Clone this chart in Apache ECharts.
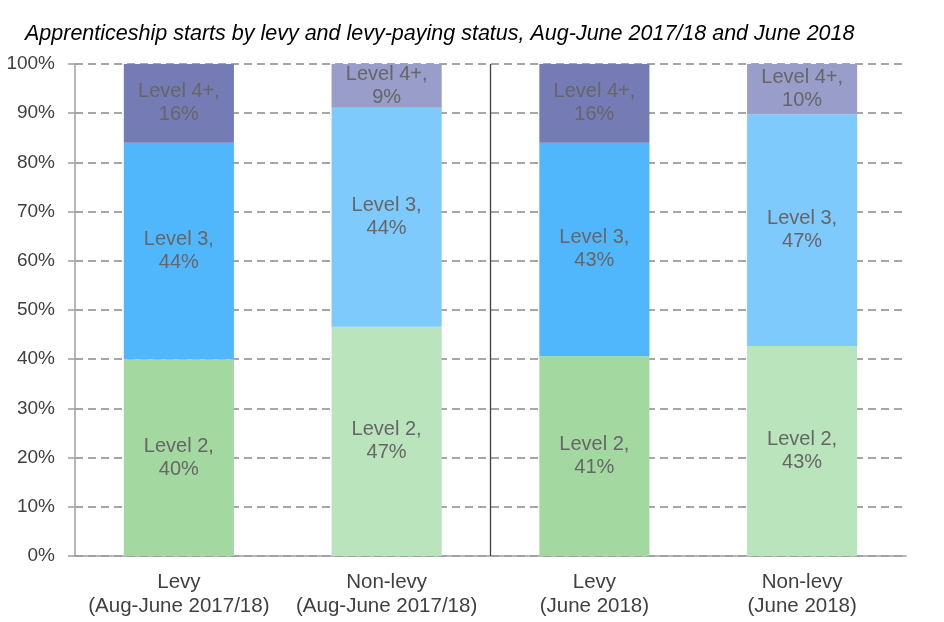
<!DOCTYPE html>
<html><head><meta charset="utf-8">
<script src="https://cdn.jsdelivr.net/npm/echarts@6/dist/echarts.min.js"></script>
<style>html,body{margin:0;padding:0;background:#fff}#c{width:944px;height:622px}</style>
</head><body><div id="c"></div>
<script>
const categories = ['Levy\n(Aug-June 2017/18)', 'Non-levy\n(Aug-June 2017/18)', 'Levy\n(June 2018)', 'Non-levy\n(June 2018)'];
const level2 = [40.0, 46.6, 40.6, 42.7];
const level3 = [44.0, 44.5, 43.4, 47.1];
const level4 = [16.0, 8.9, 16.0, 10.2];
const level2Labels = ['40%', '47%', '41%', '43%'];
const level3Labels = ['44%', '44%', '43%', '47%'];
const level4Labels = ['16%', '9%', '16%', '10%'];
const yTicks = [0, 10, 20, 30, 40, 50, 60, 70, 80, 90, 100];
const dividerAt = [2];

const FF = 'Liberation Sans, Arial, sans-serif';
const col = {
  l2: ['#A3D9A0', '#B9E4BC'],
  l3: ['#51B7FC', '#7FCAFD'],
  l4: ['#757BB5', '#989DCA']
};
function mk(name, vals, labels, colors) {
  return {
    name: name, type: 'bar', stack: 'all', barWidth: '53%',
    data: vals.map((v, i) => ({ value: v, itemStyle: { color: colors[i % 2] } })),
    label: {
      show: true, position: 'inside', color: '#666666', fontSize: 20, lineHeight: 23,
      fontFamily: FF,
      formatter: p => name + ',\n' + labels[p.dataIndex]
    }
  };
}
const chart = echarts.init(document.getElementById('c'), null, { renderer: 'canvas' });
chart.setOption({
  animation: false,
  title: {
    text: 'Apprenticeship starts by levy and levy-paying status, Aug-June 2017/18 and June 2018',
    left: 20, top: 18,
    textStyle: { fontFamily: FF, fontStyle: 'italic', fontWeight: 'normal', fontSize: 21.5, color: '#000' }
  },
  grid: { left: 75, right: 38, top: 64, bottom: 66 },
  xAxis: [{
    type: 'category', data: categories,
    axisLine: { lineStyle: { color: '#A0A0A0', width: 1.5 } },
    axisTick: { show: false },
    axisLabel: { interval: 0, hideOverlap: false, color: '#404040', fontSize: 20.5, lineHeight: 24, margin: 14, fontFamily: FF },
    splitLine: { show: false }
  }, {
    type: 'value', min: 0, max: 4, show: false
  }],
  yAxis: {
    type: 'value', min: 0, max: 100, interval: 10,
    axisLine: { show: true, lineStyle: { color: '#A0A0A0', width: 1.5 } },
    axisTick: { show: true, length: 7, lineStyle: { color: '#A0A0A0', width: 1.5 } },
    axisLabel: { color: '#404040', fontSize: 19, margin: 20, fontFamily: FF, formatter: v => yTicks.includes(v) ? v + '%' : '' },
    splitLine: { show: true, lineStyle: { color: '#A6A6A6', width: 2, type: [8, 5] } }
  },
  series: [
    mk('Level 2', level2, level2Labels, col.l2),
    mk('Level 3', level3, level3Labels, col.l3),
    mk('Level 4+', level4, level4Labels, col.l4),
    {
      type: 'scatter', xAxisIndex: 1, data: [], silent: true,
      markLine: {
        symbol: 'none', silent: true, label: { show: false },
        lineStyle: { color: '#404040', width: 1.3, type: 'solid' },
        data: dividerAt.map(x => ({ xAxis: x }))
      }
    }
  ]
});
</script></body></html>
